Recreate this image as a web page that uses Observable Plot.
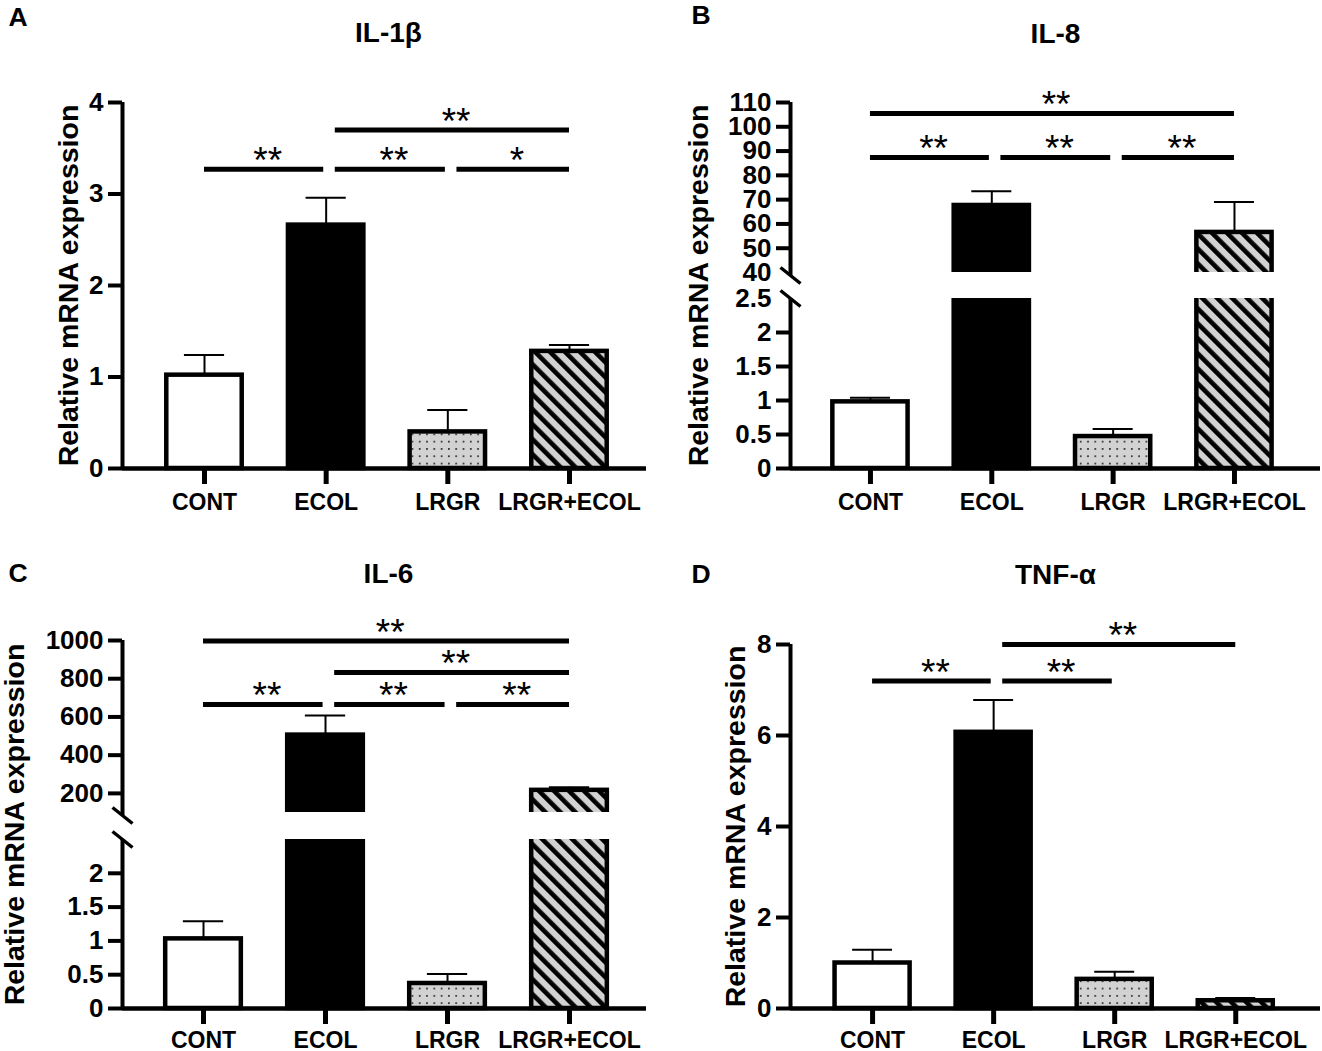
<!DOCTYPE html>
<html>
<head>
<meta charset="utf-8">
<script src="https://cdn.jsdelivr.net/npm/d3@7"></script>
<script src="https://cdn.jsdelivr.net/npm/@observablehq/plot@0.6"></script>
<style>
  html, body { margin: 0; padding: 0; background: #fff; }
  #wrap { position: relative; width: 1322px; height: 1051px; overflow: hidden; background: #fff; }
  #wrap svg { position: absolute; }
</style>
</head>
<body>
<div id="wrap"></div>
<script>
// ---------------- data ----------------
const categories = ["CONT", "ECOL", "LRGR", "LRGR+ECOL"];

const il1bMean = [1.02, 2.66, 0.40, 1.28];
const il1bErr  = [0.22, 0.30, 0.24, 0.07];
const il8Mean  = [0.98, 67.6, 0.47, 56.5];
const il8Err   = [0.06, 5.9, 0.11, 12.5];
const il6Mean  = [1.03, 505, 0.37, 216];
const il6Err   = [0.26, 102, 0.14, 16];
const tnfMean  = [1.00, 6.07, 0.64, 0.17];
const tnfErr   = [0.29, 0.71, 0.17, 0.06];

const il1bTicks   = [0, 1, 2, 3, 4];
const il8LowTicks  = [0, 0.5, 1, 1.5, 2, 2.5];
const il8HighTicks = [40, 50, 60, 70, 80, 90, 100, 110];
const il6LowTicks  = [0, 0.5, 1, 1.5, 2];
const il6HighTicks = [200, 400, 600, 800, 1000];
const tnfTicks    = [0, 2, 4, 6, 8];

// [from, to, level, label]
const il1bSig = [["CONT", "ECOL", 3.27, "**"], ["ECOL", "LRGR", 3.27, "**"], ["LRGR", "LRGR+ECOL", 3.27, "*"], ["ECOL", "LRGR+ECOL", 3.70, "**"]];
const il8Sig  = [["CONT", "ECOL", 87.4, "**"], ["ECOL", "LRGR", 87.4, "**"], ["LRGR", "LRGR+ECOL", 87.4, "**"], ["CONT", "LRGR+ECOL", 105.5, "**"]];
const il6Sig  = [["CONT", "ECOL", 665, "**"], ["ECOL", "LRGR", 665, "**"], ["LRGR", "LRGR+ECOL", 665, "**"], ["ECOL", "LRGR+ECOL", 833, "**"], ["CONT", "LRGR+ECOL", 998, "**"]];
const tnfSig  = [["CONT", "ECOL", 7.2, "**"], ["ECOL", "LRGR", 7.2, "**"], ["ECOL", "LRGR+ECOL", 8.0, "**"]];

const yLabel = "Relative mRNA expression";

// ---------------- drawing ----------------
const FONT = "'Liberation Sans', Arial, Helvetica, sans-serif";
const HW = 0.31;   // half bar width (category units)
const CAP = 0.165; // half error cap width

function makeV(s) {
  if (s.type === "linear") return v => v / s.max * s.px;
  return v => v <= s.lowMax
    ? v / s.lowMax * s.lowPx
    : s.lowPx + s.gapPx + (v - s.highMin) / (s.highMax - s.highMin) * s.highPx;
}

function addDefs(svg, id) {
  const ns = "http://www.w3.org/2000/svg";
  const defs = document.createElementNS(ns, "defs");
  defs.innerHTML = `
    <pattern id="hatch-${id}" patternUnits="userSpaceOnUse" width="10.6" height="10.6" patternTransform="rotate(-45)">
      <rect width="10.6" height="10.6" fill="#d2d2d2"/>
      <rect x="0" y="0" width="4.6" height="10.6" fill="#000"/>
    </pattern>
    <pattern id="dots-${id}" patternUnits="userSpaceOnUse" width="7.3" height="7.3">
      <rect width="7.3" height="7.3" fill="#d2d2d2"/>
      <circle cx="3.6" cy="3.6" r="0.95" fill="#1a1a1a"/>
    </pattern>`;
  svg.insertBefore(defs, svg.firstChild);
}

function panel(cfg) {
  const { id, title, letter, mean, err, sig, scale, L } = cfg;
  const V = makeV(scale);
  const total = scale.type === "linear" ? scale.px : scale.lowPx + scale.gapPx + scale.highPx;
  const idx = c => categories.indexOf(c);
  const rows = categories.map((c, i) => ({ i, c, mean: mean[i], err: err[i] }));
  const [x0, x1] = L.xDomain;
  const ux = (x1 - x0) / (L.width - L.marginLeft - L.marginRight);
  const fills = ["white", "black", `url(#dots-${id})`, `url(#hatch-${id})`];
  const sigRows = sig.map(([a, b, level, label]) => {
    const ia = idx(a), ib = idx(b);
    const s = ia + (ia > 0 ? 0.075 : 0);
    const e = ib - (ib < 3 ? 0.02 : 0);
    return { s, e, level, label };
  });

  const marks = [];
  // bars
  fills.forEach((f, k) => {
    marks.push(Plot.rect(rows.filter(d => d.i === k), {
      x1: d => d.i - HW, x2: d => d.i + HW, y1: 0, y2: d => V(d.mean),
      fill: f, stroke: "black", strokeWidth: 4.5
    }));
  });
  // error bars (upper only)
  marks.push(Plot.ruleX(rows, { x: "i", y1: d => V(d.mean), y2: d => V(d.mean + d.err), stroke: "black", strokeWidth: 2 }));
  marks.push(Plot.ruleY(rows, { y: d => V(d.mean + d.err), x1: d => d.i - CAP, x2: d => d.i + CAP, stroke: "black", strokeWidth: 2 }));

  // axis break
  let yTicksMarked, yTicksLabelOnly = [];
  if (scale.type === "linear") {
    marks.push(Plot.ruleX([x0], { y1: 0, y2: total, stroke: "black", strokeWidth: 4 }));
    yTicksMarked = scale.ticks.map(t => ({ v: V(t), t }));
  } else {
    marks.push(Plot.rect([0], { y1: scale.lowPx, y2: scale.lowPx + scale.gapPx, fill: "white" }));
    marks.push(Plot.ruleX([x0], { y1: 0, y2: scale.lowPx, stroke: "black", strokeWidth: 4 }));
    marks.push(Plot.ruleX([x0], { y1: scale.lowPx + scale.gapPx - 3, y2: total, stroke: "black", strokeWidth: 4 }));
    marks.push(Plot.link([scale.lowPx, scale.lowPx + scale.gapPx - 3], {
      x1: x0 - 10 * ux, x2: x0 + 10 * ux, y1: d => d + 8, y2: d => d - 8,
      stroke: "black", strokeWidth: 3.5
    }));
    const all = scale.ticks.map(t => ({ v: V(t), t }));
    yTicksMarked = all.filter(d => d.t !== scale.lowMax && d.t !== scale.highMin);
    yTicksLabelOnly = all.filter(d => d.t === scale.lowMax || d.t === scale.highMin);
  }
  // x axis line
  marks.push(Plot.ruleY([0], { stroke: "black", strokeWidth: 4.5 }));

  const fmt = new Map([...yTicksMarked, ...yTicksLabelOnly].map(d => [d.v, String(d.t)]));
  marks.push(Plot.axisY(yTicksMarked.map(d => d.v), {
    tickSize: 14, tickPadding: 5, strokeWidth: 4, fontSize: 26, fontWeight: "bold",
    tickFormat: d => fmt.get(d), label: null
  }));
  if (yTicksLabelOnly.length) {
    marks.push(Plot.axisY(yTicksLabelOnly.map(d => d.v), {
      tickSize: 0, tickPadding: 19, fontSize: 26, fontWeight: "bold",
      tickFormat: d => fmt.get(d), label: null
    }));
  }
  marks.push(Plot.axisX([0, 1, 2, 3], {
    tickSize: 16, tickPadding: L.xPad, strokeWidth: 5, fontSize: 23, fontWeight: "bold",
    tickFormat: i => categories[i], label: null
  }));

  // significance bars
  marks.push(Plot.ruleY(sigRows, { y: d => V(d.level), x1: "s", x2: "e", stroke: "black", strokeWidth: 5 }));
  marks.push(Plot.text(sigRows, {
    x: d => (d.s + d.e) / 2 + 0.03, y: d => V(d.level), text: "label",
    fontSize: 37, fontWeight: "normal", lineAnchor: "middle", dy: -8, fill: "black"
  }));

  // texts
  marks.push(Plot.text([title], { text: d => d, frameAnchor: "top", textAnchor: "middle", dx: L.titleDx, dy: L.titleDy, fontSize: 28, fontWeight: "bold", lineAnchor: "middle" }));
  marks.push(Plot.text([letter], { text: d => d, frameAnchor: "top-left", textAnchor: "start", dx: L.letterX - L.marginLeft, dy: L.letterY - L.marginTop, fontSize: 26.5, fontWeight: "bold", lineAnchor: "middle" }));
  marks.push(Plot.text([yLabel], { text: d => d, frameAnchor: "left", textAnchor: "middle", rotate: -90, dx: L.labelDx, fontSize: 28.5, fontWeight: "bold", lineAnchor: "middle" }));

  const svg = Plot.plot({
    width: L.width, height: L.height,
    marginLeft: L.marginLeft, marginRight: L.marginRight, marginTop: L.marginTop, marginBottom: L.marginBottom,
    x: { type: "linear", domain: L.xDomain },
    y: { type: "linear", domain: [0, total] },
    style: { fontFamily: FONT, fontWeight: "bold", background: "transparent", overflow: "visible", color: "black" },
    marks
  });
  addDefs(svg, id);
  svg.style.left = L.left + "px";
  svg.style.top = L.top + "px";
  document.getElementById("wrap").appendChild(svg);
}

panel({
  id: "A", title: "IL-1β", letter: "A", mean: il1bMean, err: il1bErr, sig: il1bSig,
  scale: { type: "linear", max: 4, px: 366, ticks: il1bTicks },
  L: { left: 0, top: 0, width: 661, height: 525, marginLeft: 122, marginRight: 15, marginTop: 102, marginBottom: 57,
       xDomain: [-0.674, 3.633], titleDx: 4, titleDy: -69, letterX: 8, letterY: 17, labelDx: -54, xPad: 9 }
});
panel({
  id: "B", title: "IL-8", letter: "B", mean: il8Mean, err: il8Err, sig: il8Sig,
  scale: { type: "broken", lowMax: 2.5, highMin: 40, highMax: 110, lowPx: 170, gapPx: 26, highPx: 170,
           ticks: [...il8LowTicks, ...il8HighTicks] },
  L: { left: 661, top: 0, width: 661, height: 525, marginLeft: 129, marginRight: 2, marginTop: 102, marginBottom: 57,
       xDomain: [-0.659, 3.709], titleDx: 0, titleDy: -68, letterX: 30, letterY: 15, labelDx: -92, xPad: 9 }
});
panel({
  id: "C", title: "IL-6", letter: "C", mean: il6Mean, err: il6Err, sig: il6Sig,
  scale: { type: "broken", lowMax: 2.5, highMin: 100, highMax: 1000, lowPx: 169, gapPx: 27, highPx: 172,
           ticks: [...il6LowTicks, ...il6HighTicks] },
  L: { left: 0, top: 525, width: 661, height: 526, marginLeft: 122, marginRight: 15, marginTop: 115, marginBottom: 43,
       xDomain: [-0.664, 3.631], titleDx: 4, titleDy: -66, letterX: 8, letterY: 48, labelDx: -108, xPad: 7 }
});
panel({
  id: "D", title: "TNF-α", letter: "D", mean: tnfMean, err: tnfErr, sig: tnfSig,
  scale: { type: "linear", max: 8, px: 364, ticks: tnfTicks },
  L: { left: 661, top: 525, width: 661, height: 526, marginLeft: 129, marginRight: 2, marginTop: 119, marginBottom: 43,
       xDomain: [-0.678, 3.70], titleDx: 0, titleDy: -69.5, letterX: 30, letterY: 49, labelDx: -55, xPad: 7 }
});
</script>
</body>
</html>
